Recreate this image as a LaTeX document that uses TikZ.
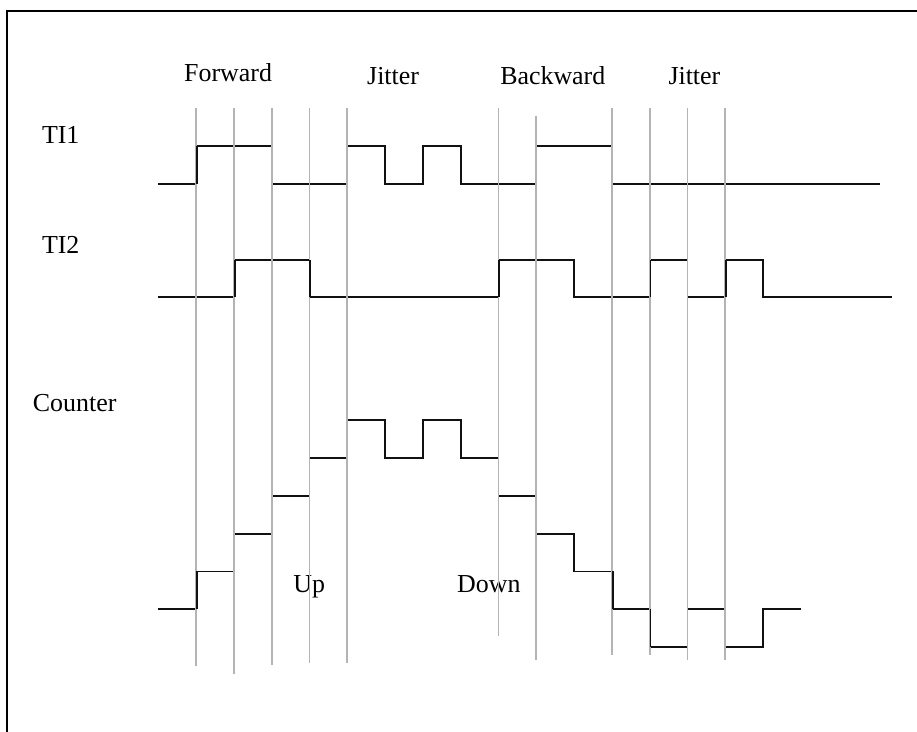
\documentclass[tikz,border=0pt]{standalone}
\usepackage{fontspec}
\setmainfont{Liberation Serif}
\usetikzlibrary{positioning}
\definecolor{gridgray}{HTML}{B4B4B4}
\definecolor{sigblack}{HTML}{111111}

\begin{document}
\begin{tikzpicture}[
  lbl/.style={font=\fontsize{19.5}{22}\selectfont, inner sep=0pt, anchor=base west},
  wave/.style={sigblack, line width=1.4pt},
  tick/.style={gridgray, line width=1.3pt},
]

% Bounding box (page size)
\useasboundingbox (-5.185,-2.222) rectangle (19.07,17.116);

% Frame (only left and top edges fall on the page)
\draw[black, line width=1.4pt] (-5.0,-2.5) |- (19.5,16.82);

% Signal names
\node[lbl] (ti1) at (-4.08,13.33) {TI1};
\node[lbl] (ti2) at (-4.08,10.41) {TI2};
\node[lbl] (cnt) at (-4.32,6.22) {Counter};

% Phase names
\node[lbl] (fwd)  at (-0.32,14.96) {Forward};
\node[lbl] (jit1) at (4.52,14.87) {Jitter};
\node[lbl] (bwd)  at (8.04,14.87) {Backward};
\node[lbl] (jit2) at (12.49,14.87) {Jitter};

% Count direction
\node[lbl] (up)   at (2.57,1.45) {Up};
\node[lbl] (down) at (6.90,1.45) {Down};

% === Waveforms ===
% TI1
\draw[wave] (-1,12.25) -| (0,13.25) -| (2,12.25) -| (4,13.25) -| (5,12.25)
  -| (6,13.25) -| (7,12.25) -| (9,13.25) -| (11,12.25) -- (18.1,12.25);

% TI2
\draw[wave] (-1,9.25) -| (1,10.25) -| (3,9.25) -| (8,10.25) -| (10,9.25)
  -| (12,10.25) -| (13,9.25) -| (14,10.25) -| (15,9.25) -- (18.4,9.25);

% Counter
\draw[wave] (-1,1) -| (0,2) -| (1,3) -| (2,4) -| (3,5) -| (4,6) -| (5,5)
  -| (6,6) -| (7,5) -| (8,4) -| (9,3) -| (10,2) -| (11,1) -| (12,0)
  -| (13,1) -| (14,0) -| (15,1) -- (16,1);

% === Edge markers ===
\foreach \x/\ytop/\ybot in {0/14.25/-0.50, 1/14.25/-0.71, 2/14.25/-0.48,
    3/14.25/-0.42, 4/14.25/-0.42, 8/14.25/0.29, 9/14.06/-0.34,
    11/14.25/-0.21, 12/14.25/-0.21, 13/14.25/-0.34, 14/14.25/-0.34}
  \draw[tick] (\x,\ytop) -- (\x,\ybot);

% edges that stay black over the markers
\foreach \x/\ya/\yb in {0/12.25/13.25, 1/9.25/10.25, 3/9.25/10.25,
    8/9.25/10.25, 12/9.25/10.25, 14/9.25/10.25, 0/1/2, 11/1/2, 12/0/1}
  \draw[wave] (\x+0.02,\ya) -- (\x+0.02,\yb);

\end{tikzpicture}
\end{document}
